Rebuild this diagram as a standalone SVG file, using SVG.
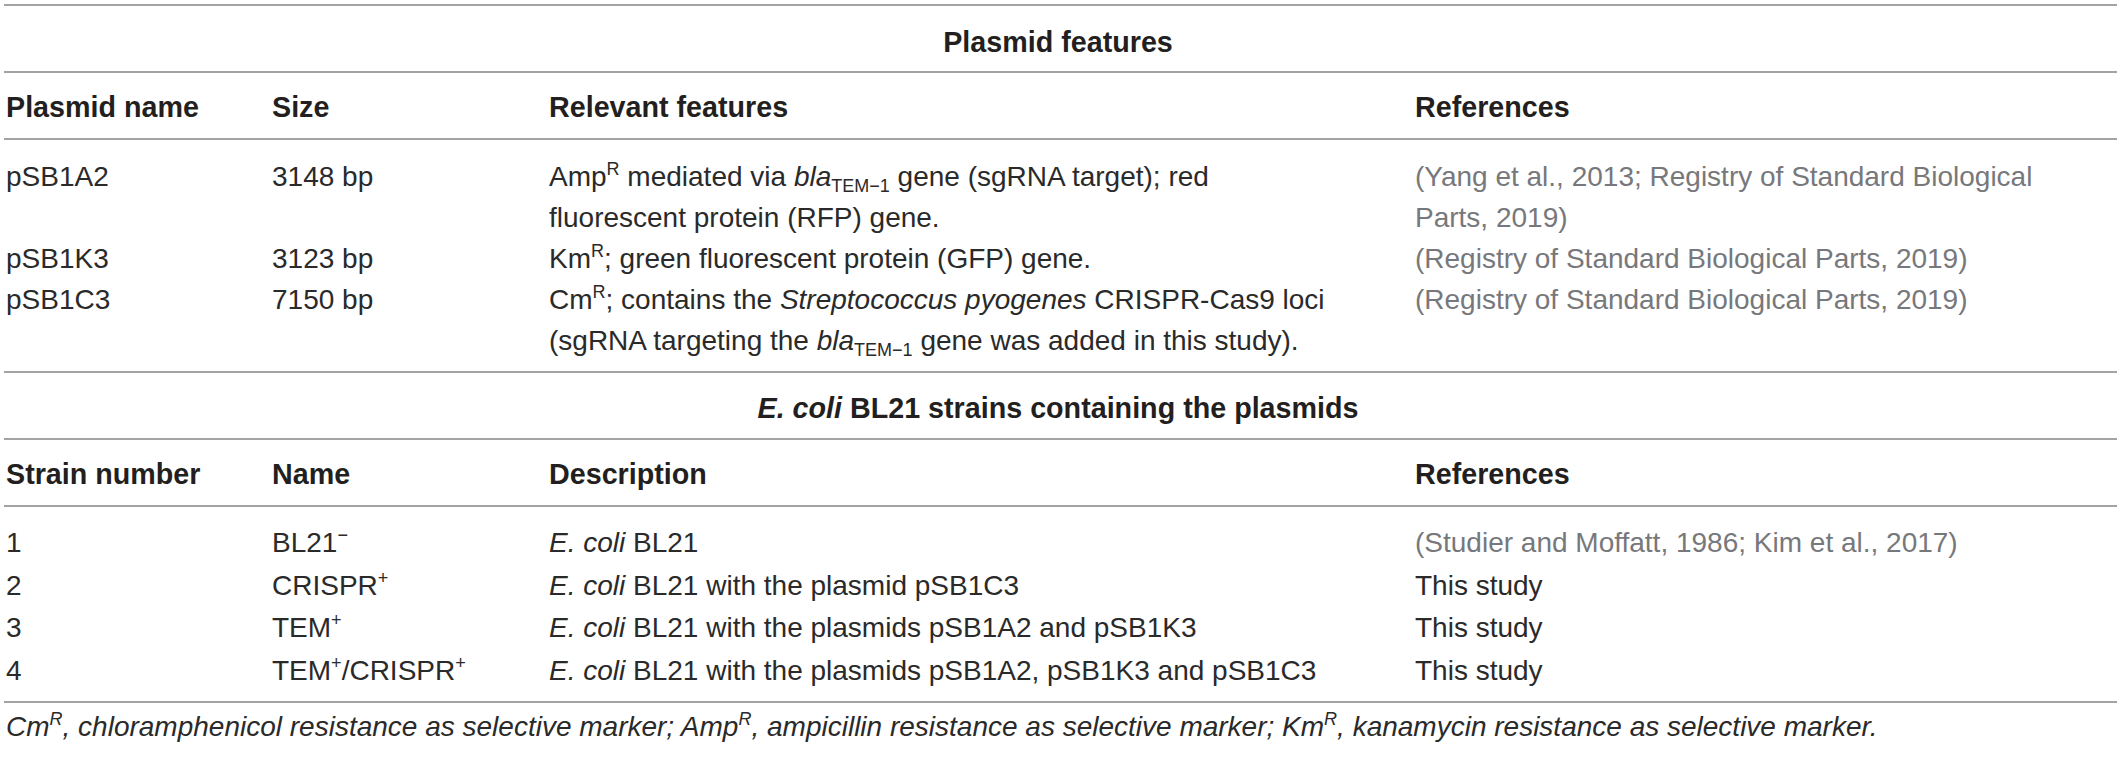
<svg xmlns="http://www.w3.org/2000/svg" width="2117" height="757" viewBox="0 0 2117 757">
<style>
text{font-family:"Liberation Sans",Arial,sans-serif;font-size:28px;fill:#2a2a2a}
.b{font-weight:bold;font-size:28.7px;fill:#231f20}
.ref{fill:#77787b}
.it{font-style:italic}
.rule{stroke:#a3a3a3;stroke-width:2}
.sm{font-size:18px}
</style>
<rect width="2117" height="757" fill="#ffffff"/>
<g id="rules">
<line class="rule" x1="4" y1="5" x2="2117" y2="5"/>
<line class="rule" x1="4" y1="72" x2="2117" y2="72"/>
<line class="rule" x1="4" y1="139" x2="2117" y2="139"/>
<line class="rule" x1="4" y1="372" x2="2117" y2="372"/>
<line class="rule" x1="4" y1="439" x2="2117" y2="439"/>
<line class="rule" x1="4" y1="506" x2="2117" y2="506"/>
<line class="rule" x1="4" y1="702" x2="2117" y2="702"/>
</g>
<g id="plasmid-title">
<text class="b" x="1058" y="52" text-anchor="middle">Plasmid features</text>
</g>
<g id="plasmid-header">
<text class="b" x="6" y="117">Plasmid name</text>
<text class="b" x="272" y="117">Size</text>
<text class="b" x="549" y="117">Relevant features</text>
<text class="b" x="1415" y="117">References</text>
</g>
<g id="row-pSB1A2">
<text x="6" y="186">pSB1A2</text>
<text x="272" y="186">3148 bp</text>
<text x="549" y="186">Amp<tspan class="sm" dy="-11">R</tspan><tspan dy="11"> mediated via </tspan><tspan class="it">bla</tspan><tspan class="sm" dy="6">TEM−1</tspan><tspan dy="-6"> gene (sgRNA target); red</tspan></text>
<text x="549" y="227">fluorescent protein (RFP) gene.</text>
<text class="ref" x="1415" y="186">(Yang et al., 2013; Registry of Standard Biological</text>
<text class="ref" x="1415" y="227">Parts, 2019)</text>
</g>
<g id="row-pSB1K3">
<text x="6" y="268">pSB1K3</text>
<text x="272" y="268">3123 bp</text>
<text x="549" y="268">Km<tspan class="sm" dy="-11">R</tspan><tspan dy="11">; green fluorescent protein (GFP) gene.</tspan></text>
<text class="ref" x="1415" y="268">(Registry of Standard Biological Parts, 2019)</text>
</g>
<g id="row-pSB1C3">
<text x="6" y="309">pSB1C3</text>
<text x="272" y="309">7150 bp</text>
<text x="549" y="309">Cm<tspan class="sm" dy="-11">R</tspan><tspan dy="11">; contains the </tspan><tspan class="it">Streptococcus pyogenes</tspan> CRISPR-Cas9 loci</text>
<text x="549" y="350">(sgRNA targeting the <tspan class="it">bla</tspan><tspan class="sm" dy="6">TEM−1</tspan><tspan dy="-6"> gene was added in this study).</tspan></text>
<text class="ref" x="1415" y="309">(Registry of Standard Biological Parts, 2019)</text>
</g>
<g id="strain-title">
<text class="b" x="1058" y="418" text-anchor="middle"><tspan class="it">E. coli</tspan> BL21 strains containing the plasmids</text>
</g>
<g id="strain-header">
<text class="b" x="6" y="484">Strain number</text>
<text class="b" x="272" y="484">Name</text>
<text class="b" x="549" y="484">Description</text>
<text class="b" x="1415" y="484">References</text>
</g>
<g id="strain-1">
<text x="6" y="552">1</text>
<text x="272" y="552">BL21<tspan class="sm" dy="-11">−</tspan></text>
<text x="549" y="552"><tspan class="it">E. coli</tspan> BL21</text>
<text class="ref" x="1415" y="552">(Studier and Moffatt, 1986; Kim et al., 2017)</text>
</g>
<g id="strain-2">
<text x="6" y="595">2</text>
<text x="272" y="595">CRISPR<tspan class="sm" dy="-11">+</tspan></text>
<text x="549" y="595"><tspan class="it">E. coli</tspan> BL21 with the plasmid pSB1C3</text>
<text x="1415" y="595">This study</text>
</g>
<g id="strain-3">
<text x="6" y="637">3</text>
<text x="272" y="637">TEM<tspan class="sm" dy="-11">+</tspan></text>
<text x="549" y="637"><tspan class="it">E. coli</tspan> BL21 with the plasmids pSB1A2 and pSB1K3</text>
<text x="1415" y="637">This study</text>
</g>
<g id="strain-4">
<text x="6" y="680">4</text>
<text x="272" y="680">TEM<tspan class="sm" dy="-11">+</tspan><tspan dy="11">/CRISPR</tspan><tspan class="sm" dy="-11">+</tspan></text>
<text x="549" y="680"><tspan class="it">E. coli</tspan> BL21 with the plasmids pSB1A2, pSB1K3 and pSB1C3</text>
<text x="1415" y="680">This study</text>
</g>
<g id="footnote">
<text class="it" x="6" y="736">Cm<tspan class="sm" dy="-11">R</tspan><tspan dy="11">, chloramphenicol resistance as selective marker; Amp</tspan><tspan class="sm" dy="-11">R</tspan><tspan dy="11">, ampicillin resistance as selective marker; Km</tspan><tspan class="sm" dy="-11">R</tspan><tspan dy="11">, kanamycin resistance as selective marker.</tspan></text>
</g>
</svg>
